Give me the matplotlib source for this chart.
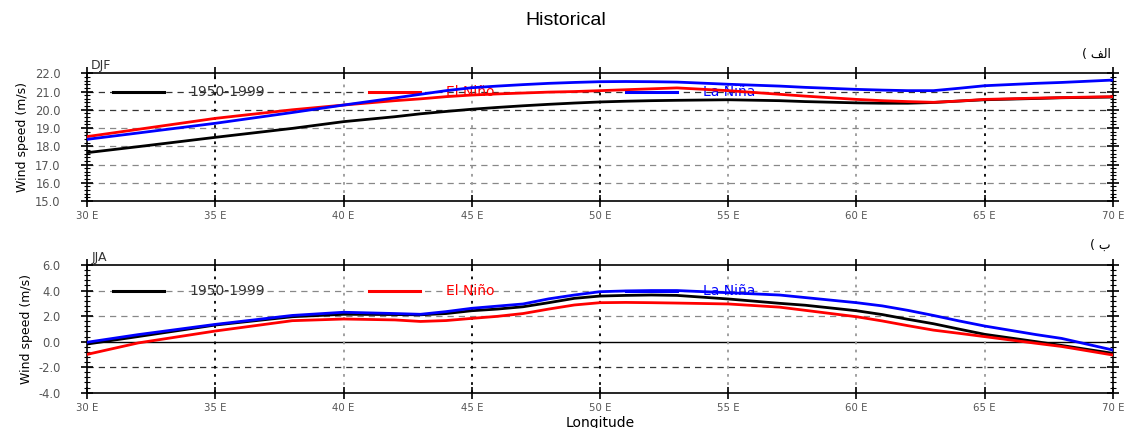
# plot.py
# Historical zonal wind speed vs longitude, DJF and JJA panels
import numpy as np
import matplotlib
matplotlib.use('Agg')
import matplotlib.pyplot as plt
from matplotlib.ticker import MultipleLocator

plt.rcParams['font.family'] = ['DejaVu Sans']

# ── data ──
lon = [30, 32, 35, 38, 40, 42, 43, 44, 45, 46, 47, 48, 49, 50, 51, 52, 53, 55, 57, 58,
       60, 61, 62, 63, 64, 65, 67, 68, 70]

djf_base = [17.65, 17.98, 18.49, 18.98, 19.35, 19.62, 19.78, 19.91, 20.03, 20.13, 20.22, 20.30,
            20.37, 20.43, 20.47, 20.50, 20.52, 20.55, 20.50, 20.45, 20.38, 20.36, 20.36, 20.40,
            20.48, 20.55, 20.62, 20.66, 20.70]
djf_nino = [18.53, 18.93, 19.53, 20.00, 20.26, 20.50, 20.60, 20.72, 20.81, 20.87, 20.92, 20.97,
            21.00, 21.05, 21.10, 21.15, 21.20, 21.05, 20.85, 20.75, 20.57, 20.50, 20.45, 20.41,
            20.48, 20.57, 20.64, 20.67, 20.72]
djf_nina = [18.38, 18.73, 19.26, 19.85, 20.26, 20.65, 20.85, 21.05, 21.21, 21.30, 21.38, 21.45,
            21.50, 21.54, 21.55, 21.54, 21.52, 21.40, 21.30, 21.23, 21.12, 21.08, 21.05, 21.05,
            21.18, 21.32, 21.45, 21.50, 21.63]

jja_base = [-0.19, 0.40, 1.30, 1.95, 2.14, 2.12, 2.10, 2.20, 2.42, 2.55, 2.73, 3.05, 3.39, 3.57,
            3.62, 3.65, 3.62, 3.34, 3.00, 2.85, 2.42, 2.12, 1.75, 1.40, 0.98, 0.57, 0.00, -0.30,
            -0.92]
jja_nino = [-1.00, -0.10, 0.83, 1.64, 1.77, 1.70, 1.58, 1.65, 1.82, 1.98, 2.20, 2.55, 2.87, 3.05,
            3.07, 3.05, 3.02, 2.95, 2.70, 2.45, 1.95, 1.62, 1.25, 0.90, 0.65, 0.39, -0.13, -0.38,
            -1.05]
jja_nina = [-0.05, 0.55, 1.35, 2.05, 2.30, 2.20, 2.14, 2.35, 2.61, 2.78, 2.95, 3.35, 3.65, 3.91,
            3.97, 4.00, 4.00, 3.83, 3.65, 3.45, 3.05, 2.80, 2.45, 2.05, 1.62, 1.22, 0.55, 0.25,
            -0.66]

labels = ['1950-1999', 'El Niño', 'La Niña']
colors = ['black', 'red', 'blue']

fig = plt.figure(figsize=(11.32, 4.28), dpi=100)
ax1 = fig.add_axes([0.0769, 0.5304, 0.9063, 0.2983])
ax2 = fig.add_axes([0.0769, 0.0825, 0.9063, 0.2983])

fig.text(0.5, 0.952, 'Historical', ha='center', va='center', fontsize=14,
         family='Liberation Sans')


def style_panel(ax, ylim, ystep, dark_h, dark_v, leg_y, season, tag):
    ax.set_xlim(30, 70)
    ax.set_ylim(*ylim)
    xt = np.arange(30, 71, 5)
    ax.set_xticks(xt)
    ax.set_xticklabels([f'{v} E' for v in xt], fontsize=7.3, color='#555555')
    yt = np.arange(ylim[0], ylim[1] + ystep / 2, ystep)
    ax.set_yticks(yt)
    ax.set_yticklabels([f'{v:.1f}' for v in yt], fontsize=8.3, color='#555555')
    ax.yaxis.set_minor_locator(MultipleLocator(ystep / 5))
    ax.tick_params(axis='both', which='major', direction='inout', length=8, width=1.2,
                   top=True, right=True)
    ax.tick_params(axis='y', which='major', pad=15)
    ax.tick_params(axis='y', which='minor', direction='inout', length=5, width=0.8, right=True)
    ax.tick_params(axis='x', which='minor', bottom=False, top=False)
    for sp in ax.spines.values():
        sp.set_linewidth(1.2)

    # horizontal dashed grid
    for v in yt[1:-1]:
        if v == 0:
            ax.axhline(v, color='black', lw=1.0, zorder=1)
        else:
            c = '#333333' if v in dark_h else '#888888'
            ax.axhline(v, color=c, lw=0.9, ls=(0, (5, 4)), zorder=1)
    # vertical dotted grid
    for v in xt[1:-1]:
        c = 'black' if v in dark_v else '#999999'
        ax.axvline(v, color=c, lw=1.3, ls=(0, (1.5, 3)), zorder=1)

    ax.set_ylabel('Wind speed (m/s)', fontsize=9, labelpad=4)
    ax.text(0.004, 1.01, season, transform=ax.transAxes, fontsize=9, color='#333333',
            ha='left', va='bottom')
    ax.text(0.998, 1.1, tag, transform=ax.transAxes, fontsize=9, ha='right', va='bottom')

    # in-plot legend sitting on a grid line
    seg = [(31.0, 33.0, 34.0), (41.0, 43.0, 44.0), (51.0, 53.0, 54.0)]
    for (x0, x1, xt0), lab, col in zip(seg, labels, colors):
        ax.plot([x0, x1], [leg_y, leg_y], color=col, lw=2.2, zorder=3)
        ax.text(xt0, leg_y, lab, color=col if col != 'black' else '#333333',
                fontsize=10, va='center', ha='left', zorder=2)


style_panel(ax1, (15.0, 22.0), 1.0, (20.0, 21.0), (35, 50, 65), 21.0, 'DJF',
            '( \uFED2\uFEDF\uFE8D')
for y, col in zip([djf_base, djf_nino, djf_nina], colors):
    ax1.plot(lon, y, color=col, lw=2.0, zorder=4)

style_panel(ax2, (-4.0, 6.0), 2.0, (-2.0, -4.0), (35, 45, 50), 4.0, 'JJA',
            '( \uFE8F')
for y, col in zip([jja_base, jja_nino, jja_nina], colors):
    ax2.plot(lon, y, color=col, lw=2.0, zorder=4)
ax2.set_xlabel('Longitude', fontsize=10, labelpad=2)

fig.savefig('out.png', dpi=100, facecolor='white')
plt.close(fig)
